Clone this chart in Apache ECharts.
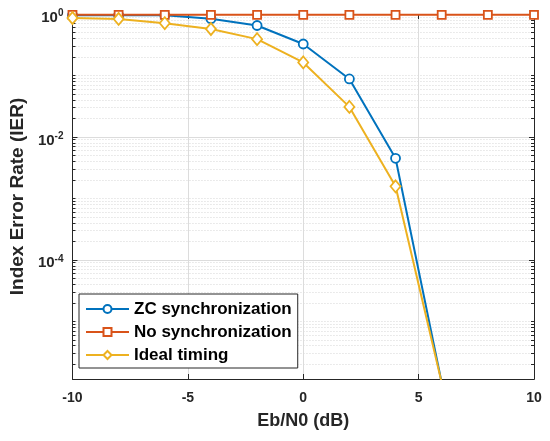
<!DOCTYPE html>
<html lang="en">
<head>
    <meta charset="UTF-8">
    <title>Index Error Rate</title>
    <script src="https://cdn.jsdelivr.net/npm/echarts@6/dist/echarts.min.js"></script>
</head>
<style>
    *{
        margin: 0;
        padding: 0;
    }
    html , body{
        width: 550px;
        height: 441px;
        background: #fff;
    }
    .container{
        width: 550px;
        height: 441px;
    }
</style>
<body>
<div class="container"></div>
<script>
    // Eb/N0 (dB)
    let ebn0 = [-10, -8, -6, -4, -2, 0, 2, 4, 6, 8, 10];
    // IER values (null = not plotted)
    let zcSync = [0.95, 0.95, 0.95, 0.84, 0.65, 0.325, 0.0877, 0.00449, 1.0e-6, null, null];
    let noSync = [0.97, 0.97, 0.97, 0.97, 0.97, 0.97, 0.97, 0.97, 0.97, 0.97, 0.97];
    let idealTiming = [0.86, 0.83, 0.71, 0.57, 0.39, 0.163, 0.0308, 0.00157, 1.0e-6, null, null];

    let seriesNames = ['ZC synchronization', 'No synchronization', 'Ideal timing'];
    let xTicks = [-10, -5, 0, 5, 10];
    let yMajorTicks = [1e-4, 1e-2, 1];
    let yMin = 1.15e-6, yMax = 1;

    // minor log ticks: 2..9 x 10^k plus the odd decades
    let yMinorTicks = [];
    for (let k = -6; k <= -1; k++) {
        for (let m = 1; m <= 9; m++) {
            let v = Number((m * Math.pow(10, k)).toPrecision(3));
            if (m === 1 && k % 2 === 0) continue;
            if (v >= yMin && v < yMax) yMinorTicks.push(v);
        }
    }

    let font = 'Liberation Sans, Arial, sans-serif';
    let ink = '#262626';
    let colors = ['#0072BD', '#D95319', '#EDB120'];

    let container = document.querySelector('.container');
    let mycharts = echarts.init(container);

    function yAxisOf(position, ticks, tickLen, withLabels, split) {
        return {
            type: 'log',
            logBase: 10,
            position: position,
            min: yMin,
            max: yMax,
            axisLine: {show: true, onZero: false, lineStyle: {color: ink, width: 1}},
            axisTick: {show: true, inside: true, length: tickLen, customValues: ticks,
                lineStyle: {color: ink, width: 1}},
            axisLabel: withLabels ? {
                show: true,
                customValues: ticks,
                margin: 9,
                padding: [7, 0, 0, 0],
                formatter: function (value) {
                    let e = Math.round(Math.log10(value));
                    return '{b|10}{s|' + e + '}';
                },
                rich: {
                    b: {fontFamily: font, fontSize: 15, fontWeight: 'bold', color: ink, lineHeight: 18},
                    s: {fontFamily: font, fontSize: 10, fontWeight: 'bold', color: ink, lineHeight: 10, verticalAlign: 'top'}
                }
            } : {show: false},
            splitLine: split ? {show: true, lineStyle: split} : {show: false},
            name: withLabels ? 'Index Error Rate (IER)' : '',
            nameLocation: 'middle',
            nameGap: 45,
            nameTextStyle: {fontFamily: font, fontSize: 19, fontWeight: 'bold', color: ink}
        };
    }

    let mk = [
        {symbol: 'circle', symbolSize: 9},
        {symbol: 'rect', symbolSize: 8},
        {symbol: 'diamond', symbolSize: [10, 12]}
    ];
    let values = [zcSync, noSync, idealTiming];
    let series = seriesNames.map((name, i) => ({
        name: name,
        type: 'line',
        xAxisIndex: 0,
        yAxisIndex: 0,
        data: ebn0.map((x, j) => [x, values[i][j]]),
        connectNulls: false,
        clip: true,
        symbol: mk[i].symbol,
        symbolSize: mk[i].symbolSize,
        showAllSymbol: true,
        color: colors[i],
        lineStyle: {color: colors[i], width: 2},
        itemStyle: {color: '#fff', borderColor: colors[i], borderWidth: 1.8},
        emphasis: {disabled: true},
        animation: false,
        z: 3 + i
    }));

    let options = {
        animation: false,
        grid: {left: 68, right: 16, top: 14, bottom: 62, containLabel: false},
        legend: {
            data: seriesNames,
            orient: 'vertical',
            left: 79,
            top: 294,
            padding: [5, 6, 3, 6],
            itemGap: 3,
            itemWidth: 43,
            itemHeight: 10,
            backgroundColor: '#fff',
            borderColor: ink,
            borderWidth: 1,
            borderRadius: 0,
            selectedMode: false,
            textStyle: {fontFamily: font, fontSize: 17, fontWeight: 'bold', color: '#000', lineHeight: 20}
        },
        xAxis: [{
            type: 'value',
            position: 'bottom',
            min: -10,
            max: 10,
            interval: 5,
            axisLine: {show: true, onZero: false, lineStyle: {color: ink, width: 1}},
            axisTick: {show: true, inside: true, length: 5, customValues: xTicks, lineStyle: {color: ink}},
            axisLabel: {margin: 12, fontFamily: font, fontSize: 14, fontWeight: 'bold', color: ink,
                customValues: xTicks, formatter: v => String(v)},
            splitLine: {show: true, lineStyle: {color: '#dcdcdc', width: 1}},
            name: 'Eb/N0 (dB)',
            nameLocation: 'middle',
            nameGap: 33,
            nameTextStyle: {fontFamily: font, fontSize: 18, fontWeight: 'bold', color: ink}
        }, {
            type: 'value',
            position: 'top',
            min: -10,
            max: 10,
            interval: 5,
            axisLine: {show: true, onZero: false, lineStyle: {color: ink, width: 1}},
            axisTick: {show: true, inside: true, length: 5, customValues: xTicks, lineStyle: {color: ink}},
            axisLabel: {show: false},
            splitLine: {show: false}
        }],
        yAxis: [
            yAxisOf('left', yMajorTicks, 5, true, {color: '#dcdcdc', width: 1}),
            yAxisOf('right', yMajorTicks, 5, false, null),
            // these two get pushed to the opposite side by the grid
            yAxisOf('right', yMinorTicks, 3, false, {color: '#d6d6d6', width: 1, type: [1, 2]}),
            yAxisOf('left', yMinorTicks, 3, false, null)
        ],
        series,
    };

    mycharts.setOption(options);
</script>
</body>
</html>
